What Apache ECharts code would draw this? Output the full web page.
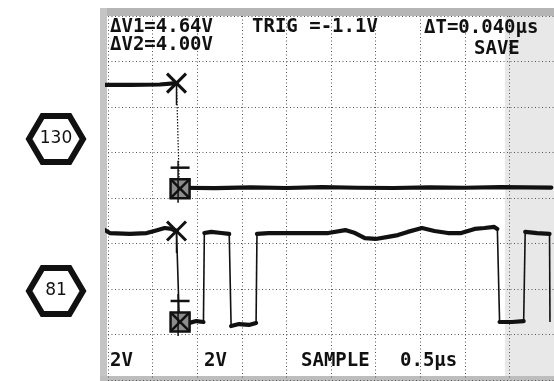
<!DOCTYPE html>
<html>
<head>
<meta charset="utf-8">
<script src="https://cdn.jsdelivr.net/npm/echarts@6/dist/echarts.min.js"></script>
<style>
  html, body { margin: 0; padding: 0; background: #fff; }
  #scope { width: 554px; height: 381px; }
</style>
</head>
<body>
<div id="scope"></div>
<script>
// Screen scale: 0.5 µs per division horizontally, 2 V per division vertically.
const timeDiv = 0.5;
const voltDiv = 2;

// Readouts
const dV1 = 4.64;
const dV2 = 4.00;
const dT = 0.040;
const trigLevel = -1.1;

// Channel 1 (130): high before the cursor, low after
const ch1High = [[-0.056, 12.97], [0.25, 12.97], [0.58, 12.99], [0.768, 13.05]];
const ch1Low = [[0.80, 8.45], [1.2, 8.43], [1.6, 8.47], [2.0, 8.44], [2.4, 8.48], [2.8, 8.45],
                [3.2, 8.44], [3.6, 8.47], [4.0, 8.45], [4.4, 8.48], [4.97, 8.46]];

// Channel 2 (81): pulse train
const ch2Seg1 = [[-0.056, 6.64], [0.02, 6.46], [0.245, 6.42], [0.434, 6.46], [0.52, 6.55],
                 [0.635, 6.68], [0.713, 6.64], [0.768, 6.55]];
const ch2Seg2 = [[0.80, 2.55], [0.913, 2.51], [0.99, 2.59], [1.07, 2.55]];
const ch2Seg3 = [[1.08, 6.46], [1.158, 6.51], [1.27, 6.46], [1.359, 6.42]];
const ch2Seg4 = [[1.38, 2.37], [1.47, 2.46], [1.58, 2.42], [1.66, 2.51]];
const ch2Seg5 = [[1.67, 6.42], [1.80, 6.46], [2.03, 6.46], [2.25, 6.46], [2.47, 6.46], [2.66, 6.59],
                 [2.77, 6.46], [2.88, 6.24], [3.0, 6.20], [3.14, 6.29], [3.25, 6.37], [3.36, 6.51],
                 [3.52, 6.68], [3.66, 6.55], [3.81, 6.46], [3.96, 6.46], [4.11, 6.64], [4.22, 6.68],
                 [4.33, 6.73], [4.365, 6.64]];
const ch2Seg6 = [[4.39, 2.55], [4.53, 2.55], [4.66, 2.59]];
const ch2Seg7 = [[4.677, 6.51], [4.81, 6.46], [4.95, 6.42]];
const ch2Tail = [[4.95, 6.42], [4.955, 2.55]];

// Cursor positions
const cursorTime = 0.768;
const cursorLevels = [13.05, 6.55];
const cursorDeltas = [dV1, dV2];

const ch1Segments = [ch1High, ch1Low];
const ch2Segments = [ch2Seg1, ch2Seg2, ch2Seg3, ch2Seg4, ch2Seg5, ch2Seg6, ch2Seg7];

const INK = '#111';

function traceSeries(segments) {
  return segments.map(seg => ({
    type: 'line', data: seg, symbol: 'none', clip: false, silent: true,
    lineStyle: { color: INK, width: 4.2, cap: 'round', join: 'round' }, z: 5
  }));
}
function edgeSeries(segments, dotted) {
  const out = [];
  for (let i = 0; i < segments.length - 1; i++) {
    const a = segments[i][segments[i].length - 1];
    const b = segments[i + 1][0];
    out.push({
      type: 'line', data: [a, b], symbol: 'none', clip: false, silent: true,
      lineStyle: { color: INK, width: dotted ? 1.2 : 1.6, type: dotted ? [1.5, 1.5] : 'solid' }, z: 4
    });
  }
  return out;
}

const xMarks = cursorLevels.map(v => [cursorTime, v]);
const boxMarks = cursorLevels.map((v, i) => [cursorTime + dT, v - cursorDeltas[i]]);

function hexPoints(cx, cy) {
  const hw = 27, hh = 23, q = 13.5;
  return [[cx - hw, cy], [cx - q, cy - hh], [cx + q, cy - hh], [cx + hw, cy], [cx + q, cy + hh], [cx - q, cy + hh]];
}

const monoFont = 'bold 19px "DejaVu Sans Mono"';
function readout(text, x, y) {
  return { type: 'text', z: 20, style: { text, x, y, fill: INK, font: monoFont, verticalAlign: 'middle' } };
}

const chart = echarts.init(document.getElementById('scope'), null, { renderer: 'canvas' });

chart.setOption({
  animation: false,
  backgroundColor: '#fff',
  grid: { left: 108, top: 16, width: 449, height: 364 },
  xAxis: {
    type: 'value', min: 0, max: 10 * timeDiv, interval: timeDiv,
    axisLine: { show: false }, axisTick: { show: false }, axisLabel: { show: false },
    splitLine: { show: true, lineStyle: { color: '#555', width: 1, type: [1, 2.5] } }
  },
  yAxis: {
    type: 'value', min: 0, max: 8 * voltDiv, interval: voltDiv,
    axisLine: { show: false }, axisTick: { show: false }, axisLabel: { show: false },
    splitLine: { show: true, lineStyle: { color: '#555', width: 1, type: [1, 2.5] } }
  },
  graphic: [
    // screen edges
    { type: 'rect', z: -10, shape: { x: 100, y: 8, width: 454, height: 8 }, style: { fill: '#b5b5b5' } },
    { type: 'rect', z: -10, shape: { x: 100, y: 8, width: 7, height: 373 }, style: { fill: '#c4c4c4' } },
    { type: 'rect', z: -10, shape: { x: 100, y: 376, width: 454, height: 5 }, style: { fill: '#bdbdbd' } },
    { type: 'rect', z: -10, shape: { x: 505, y: 16, width: 49, height: 360 }, style: { fill: '#e8e8e8' } },
    // channel badges
    { type: 'polygon', z: 20, shape: { points: hexPoints(56, 139) }, style: { fill: '#fff', stroke: INK, lineWidth: 6 } },
    { type: 'text', z: 21, style: { text: '130', x: 56, y: 139, align: 'center', verticalAlign: 'middle', fill: INK, font: '17px "DejaVu Sans"' } },
    { type: 'polygon', z: 20, shape: { points: hexPoints(56, 291) }, style: { fill: '#fff', stroke: INK, lineWidth: 6 } },
    { type: 'text', z: 21, style: { text: '81', x: 56, y: 291, align: 'center', verticalAlign: 'middle', fill: INK, font: '17px "DejaVu Sans"' } },
    // readouts
    readout('ΔV1=' + dV1.toFixed(2) + 'V', 110, 27),
    readout('ΔV2=' + dV2.toFixed(2) + 'V', 110, 45),
    readout('TRIG =' + trigLevel.toFixed(1) + 'V', 252, 27),
    readout('ΔT=' + dT.toFixed(3) + 'µs', 424, 28),
    readout('SAVE', 474, 49),
    readout(voltDiv + 'V', 110, 361),
    readout(voltDiv + 'V', 204, 361),
    readout('SAMPLE', 301, 361),
    readout(timeDiv + 'µs', 400, 361)
  ],
  series: [
    ...traceSeries(ch1Segments),
    ...edgeSeries(ch1Segments, true),
    ...traceSeries(ch2Segments),
    ...edgeSeries(ch2Segments, false),
    { type: 'line', data: ch2Tail, symbol: 'none', clip: false, silent: true,
      lineStyle: { color: INK, width: 1.6 }, z: 4 },
    {
      // level cursors: X marks
      type: 'custom', data: xMarks, silent: true, z: 8,
      renderItem: (params, api) => {
        const p = api.coord([api.value(0), api.value(1)]);
        const s = 9.5;
        return { type: 'group', children: [
          { type: 'line', shape: { x1: p[0] - s, y1: p[1] - s, x2: p[0] + s, y2: p[1] + s }, style: { stroke: INK, lineWidth: 3 } },
          { type: 'line', shape: { x1: p[0] - s, y1: p[1] + s, x2: p[0] + s, y2: p[1] - s }, style: { stroke: INK, lineWidth: 3 } },
          { type: 'line', shape: { x1: p[0], y1: p[1], x2: p[0], y2: p[1] + 22 }, style: { stroke: INK, lineWidth: 1.5 } }
        ] };
      }
    },
    {
      // delta cursors: crossed boxes
      type: 'custom', data: boxMarks, silent: true, z: 8,
      renderItem: (params, api) => {
        const p = api.coord([api.value(0), api.value(1)]);
        const h = 9.5;
        return { type: 'group', children: [
          { type: 'rect', shape: { x: p[0] - h, y: p[1] - h, width: 2 * h, height: 2 * h }, style: { fill: '#8c8c8c', stroke: INK, lineWidth: 2.5 } },
          { type: 'line', shape: { x1: p[0] - h, y1: p[1] - h, x2: p[0] + h, y2: p[1] + h }, style: { stroke: INK, lineWidth: 2.5 } },
          { type: 'line', shape: { x1: p[0] - h, y1: p[1] + h, x2: p[0] + h, y2: p[1] - h }, style: { stroke: INK, lineWidth: 2.5 } },
          { type: 'line', shape: { x1: p[0] - h, y1: p[1] - 21, x2: p[0] + h, y2: p[1] - 21 }, style: { stroke: INK, lineWidth: 2.5 } },
          { type: 'line', shape: { x1: p[0] - 2, y1: p[1] - 28, x2: p[0] - 2, y2: p[1] + 14 }, style: { stroke: INK, lineWidth: 1.5 } }
        ] };
      }
    }
  ]
});
</script>
</body>
</html>
